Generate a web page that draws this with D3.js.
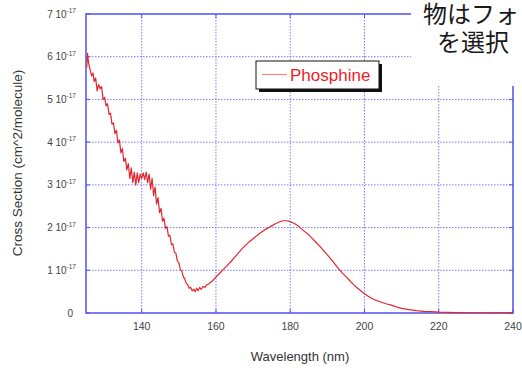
<!DOCTYPE html>
<html>
<head>
<meta charset="utf-8">
<script src="https://cdn.jsdelivr.net/npm/d3@7"></script>
<style>
  html, body { margin: 0; padding: 0; background: #fff; }
  svg { display: block; }
</style>
</head>
<body>
<svg id="chart" width="522" height="368"></svg>
<script>
// Phosphine absorption cross section (units of 1e-17 cm^2/molecule) vs wavelength (nm)
const wavelength = [
  125.2, 125.4, 125.7, 126.1, 126.5, 126.9, 127.2, 127.6, 128.0, 128.4,
  128.8, 129.2, 129.6, 130.0, 130.4, 130.8, 131.2, 131.6, 132.0, 132.4,
  132.8, 133.2, 133.6, 134.0, 134.4, 134.8, 135.2, 135.6, 136.0, 136.4,
  136.8, 137.2, 137.6, 138.0, 138.4, 138.8, 139.2, 139.6, 140.0, 140.4,
  140.8, 141.2, 141.6, 142.0, 142.4, 142.8, 143.2, 143.6, 144.0, 144.4,
  144.8, 145.2, 145.6, 146.0, 146.4, 146.8, 147.2, 147.6, 148.0, 148.4,
  148.8, 149.2, 149.6, 150.0, 150.4, 150.8, 151.2, 151.6, 152.0, 152.4,
  152.8, 153.2, 153.6, 154.0, 154.4, 154.8, 155.2, 155.6, 156.0, 156.5,
  157.0, 157.5, 158.0, 159.0, 160.0, 161, 162, 163, 164, 165,
  166, 167, 168, 169, 170, 171, 172, 173, 174, 175,
  176, 177, 178, 179, 180, 181, 182, 183, 184, 185,
  186, 187, 188, 189, 190, 191, 192, 193, 194, 195,
  196, 197, 198, 199, 200, 201, 202, 203, 204, 205,
  206, 207, 208, 209, 210, 212, 214, 216, 218, 220,
  222, 225, 230, 235, 240
];
const crossSection = [
  5.75, 6.08, 5.85, 5.70, 5.55, 5.62, 5.42, 5.50, 5.20, 5.35,
  5.25, 5.30, 5.00, 5.05, 4.85, 4.90, 4.65, 4.68, 4.42, 4.45,
  4.20, 4.28, 3.98, 4.05, 3.75, 3.85, 3.55, 3.62, 3.35, 3.50,
  3.15, 3.40, 3.05, 3.30, 3.00, 3.28, 3.05, 3.25, 3.15, 3.28,
  3.12, 3.30, 3.05, 3.25, 2.90, 3.15, 2.75, 2.95, 2.55, 2.70,
  2.35, 2.45, 2.15, 2.22, 1.98, 2.02, 1.80, 1.82, 1.60, 1.62,
  1.42, 1.40, 1.22, 1.18, 1.02, 0.98, 0.85, 0.80, 0.70, 0.66,
  0.58, 0.60, 0.52, 0.56, 0.50, 0.58, 0.52, 0.60, 0.55, 0.62,
  0.60, 0.66, 0.68, 0.75, 0.84, 0.93, 1.02, 1.11, 1.20, 1.30,
  1.40, 1.50, 1.59, 1.67, 1.74, 1.81, 1.88, 1.94, 1.99, 2.04,
  2.09, 2.13, 2.16, 2.16, 2.14, 2.10, 2.05, 1.97, 1.90, 1.83,
  1.74, 1.65, 1.56, 1.46, 1.36, 1.26, 1.15, 1.04, 0.94, 0.85,
  0.76, 0.67, 0.59, 0.52, 0.45, 0.39, 0.34, 0.30, 0.27, 0.24,
  0.21, 0.19, 0.16, 0.13, 0.11, 0.08, 0.055, 0.04, 0.03, 0.02,
  0.015, 0.01, 0.006, 0.004, 0.003
];
const xTicks = [140, 160, 180, 200, 220, 240];
const yTicks = [0, 1, 2, 3, 4, 5, 6, 7];
const yExponent = "-17";
const seriesName = "Phosphine";
const xTitle = "Wavelength (nm)";
const yTitle = "Cross Section (cm^2/molecule)";
const noteLines = ["物はフォ", "を選択"];

const svg = d3.select("#chart");
const m = { left: 86, top: 14, right: 513, bottom: 313 };

const x = d3.scaleLinear().domain([125, 240]).range([m.left, m.right]);
const y = d3.scaleLinear().domain([0, 7]).range([m.bottom, m.top]);

const blue = "#5050f0";
const gridBlue = "#7a7af5";
const sans = "Liberation Sans, Arial, sans-serif";

// dotted grid
const grid = svg.append("g");
grid.selectAll("line.gx").data(xTicks.filter(d => d < 240)).join("line")
  .attr("x1", d => x(d)).attr("x2", d => x(d))
  .attr("y1", m.top).attr("y2", m.bottom)
  .attr("stroke", gridBlue).attr("stroke-width", 1).attr("stroke-dasharray", "1.5,1.5");
grid.selectAll("line.gy").data(yTicks.filter(d => d > 0 && d < 7)).join("line")
  .attr("x1", m.left).attr("x2", m.right)
  .attr("y1", d => y(d)).attr("y2", d => y(d))
  .attr("stroke", gridBlue).attr("stroke-width", 1).attr("stroke-dasharray", "1.5,1.5");

// small inward ticks on the frame
const ticks = svg.append("g").attr("stroke", blue).attr("stroke-width", 1);
yTicks.forEach(d => {
  ticks.append("line").attr("x1", m.left).attr("x2", m.left + 4).attr("y1", y(d)).attr("y2", y(d));
  ticks.append("line").attr("x1", m.right - 4).attr("x2", m.right).attr("y1", y(d)).attr("y2", y(d));
});
xTicks.forEach(d => {
  ticks.append("line").attr("x1", x(d)).attr("x2", x(d)).attr("y1", m.bottom).attr("y2", m.bottom - 4);
  ticks.append("line").attr("x1", x(d)).attr("x2", x(d)).attr("y1", m.top).attr("y2", m.top + 4);
});

// frame
svg.append("rect")
  .attr("x", m.left).attr("y", m.top)
  .attr("width", m.right - m.left).attr("height", m.bottom - m.top)
  .attr("fill", "none").attr("stroke", blue).attr("stroke-width", 1.5);

// spectrum
const line = d3.line().x((d, i) => x(wavelength[i])).y(d => y(d));
svg.append("path")
  .datum(crossSection)
  .attr("d", line)
  .attr("fill", "none")
  .attr("stroke", "#e3262f")
  .attr("stroke-width", 1.2)
  .attr("stroke-linejoin", "round");

// y tick labels
const yl = svg.append("g")
  .attr("font-family", sans)
  .attr("fill", "#444");
yTicks.forEach(d => {
  const t = yl.append("text")
    .attr("x", 76).attr("y", y(d) + 3.5)
    .attr("text-anchor", "end")
    .attr("font-size", 10);
  if (d === 0) {
    t.attr("x", 73).text("0");
  } else {
    t.append("tspan").text(d + " 10");
    t.append("tspan").attr("dy", -4.5).attr("font-size", 6.5).text(yExponent);
  }
});

// x tick labels
svg.append("g")
  .attr("font-family", sans)
  .attr("fill", "#444").attr("font-size", 10.5)
  .selectAll("text").data(xTicks).join("text")
  .attr("x", d => x(d)).attr("y", 330)
  .attr("text-anchor", "middle")
  .text(d => d);

// axis titles
svg.append("text")
  .attr("x", 300).attr("y", 361)
  .attr("text-anchor", "middle")
  .attr("font-family", sans)
  .attr("font-size", 13).attr("fill", "#333")
  .text(xTitle);
svg.append("text")
  .attr("transform", "translate(22,163) rotate(-90)")
  .attr("text-anchor", "middle")
  .attr("font-family", sans)
  .attr("font-size", 13.5).attr("fill", "#333")
  .text(yTitle);

// legend
const lg = svg.append("g");
lg.append("rect").attr("x", 259).attr("y", 64).attr("width", 123).attr("height", 28).attr("fill", "#111");
lg.append("rect").attr("x", 256).attr("y", 61).attr("width", 123).attr("height", 28)
  .attr("fill", "#fff").attr("stroke", "#111").attr("stroke-width", 1);
lg.append("line").attr("x1", 262).attr("x2", 287).attr("y1", 74.5).attr("y2", 74.5)
  .attr("stroke", "#f08888").attr("stroke-width", 1.2);
lg.append("text").attr("x", 290).attr("y", 81)
  .attr("font-family", sans)
  .attr("font-size", 17).attr("fill", "#ee1c2a")
  .text(seriesName);

// Japanese caption block in the top-right corner
svg.append("rect").attr("x", 411).attr("y", 0).attr("width", 111).attr("height", 86).attr("fill", "#fff");
const note = svg.append("g")
  .attr("font-family", "Noto Sans CJK JP")
  .attr("font-size", 24).attr("fill", "#1a1a1a");
note.append("text").attr("x", 423).attr("y", 23).text(noteLines[0]);
note.append("text").attr("x", 437).attr("y", 51).text(noteLines[1]);
</script>
</body>
</html>
